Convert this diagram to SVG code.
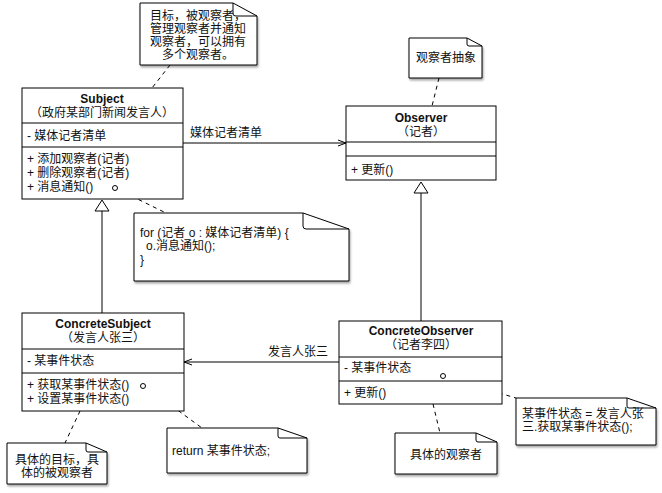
<svg xmlns="http://www.w3.org/2000/svg" width="662" height="493" viewBox="0 0 662 493">
<defs>
<style>
text{font-family:"Liberation Sans","Noto Sans CJK SC",sans-serif;font-size:12px;fill:#111}
.b{font-weight:bold}
.m{text-anchor:middle}
.box{fill:#fff;stroke:#000;stroke-width:1}
.note{fill:#fff;stroke:#000;stroke-width:1;filter:url(#sh)}
.fold{fill:none;stroke:#000;stroke-width:1}
.dash{fill:none;stroke:#000;stroke-width:1;stroke-dasharray:4,4}
.line{fill:none;stroke:#000;stroke-width:1}
.dot{fill:#fff;stroke:#000;stroke-width:1}
.tri{fill:#fff;stroke:#000;stroke-width:1}
</style>
<filter id="sh" x="-10%" y="-10%" width="130%" height="140%">
<feDropShadow dx="1" dy="2" stdDeviation="1" flood-color="#000" flood-opacity="0.35"/>
</filter>
<marker id="open" markerWidth="10" markerHeight="8" refX="9" refY="4" orient="auto" markerUnits="userSpaceOnUse">
<path d="M1,1 L9,4 L1,7" fill="none" stroke="#000" stroke-width="1"/>
</marker>
</defs>

<g id="connectors">
<line class="dash" x1="170" y1="65" x2="152" y2="88"/>
<line class="dash" x1="439" y1="78" x2="432" y2="106"/>
<line class="dash" x1="117" y1="189" x2="166" y2="213"/>
<line class="dash" x1="146" y1="387" x2="202" y2="428"/>
<line class="dash" x1="80" y1="411" x2="65" y2="443"/>
<line class="dash" x1="445" y1="377" x2="516" y2="398"/>
<line class="dash" x1="433" y1="404" x2="440" y2="433"/>
<line class="line" x1="183" y1="143" x2="346" y2="143" marker-end="url(#open)"/>
<line class="line" x1="340" y1="362" x2="184" y2="362" marker-end="url(#open)"/>
<line class="line" x1="102" y1="211" x2="102" y2="313"/>
<polygon class="tri" points="102,200 95,211 109,211"/>
<line class="line" x1="421" y1="193" x2="421" y2="321"/>
<polygon class="tri" points="421,182 414,193 428,193"/>
<text x="190" y="137">媒体记者清单</text>
<text x="268" y="356">发言人张三</text>
</g>

<g id="subject">
<rect class="box" x="22" y="88" width="161" height="111"/>
<line class="line" x1="22" y1="123" x2="183" y2="123"/>
<line class="line" x1="22" y1="147" x2="183" y2="147"/>
<text class="b m" x="102" y="103">Subject</text>
<text class="m" x="102" y="117">（政府某部门新闻发言人）</text>
<text x="27" y="140">- 媒体记者清单</text>
<text x="27" y="163">+ 添加观察者(记者)</text>
<text x="27" y="177">+ 删除观察者(记者)</text>
<text x="27" y="191">+ 消息通知()</text>
<circle class="dot" cx="115" cy="188" r="2.5"/>
</g>

<g id="observer">
<rect class="box" x="346" y="106" width="150" height="74"/>
<line class="line" x1="346" y1="142" x2="496" y2="142"/>
<line class="line" x1="346" y1="156" x2="496" y2="156"/>
<text class="b m" x="421" y="122">Observer</text>
<text class="m" x="421" y="136">（记者）</text>
<text x="351" y="174">+ 更新()</text>
</g>

<g id="concrete-subject">
<rect class="box" x="22" y="313" width="162" height="98"/>
<line class="line" x1="22" y1="349" x2="184" y2="349"/>
<line class="line" x1="22" y1="373" x2="184" y2="373"/>
<text class="b m" x="103" y="328">ConcreteSubject</text>
<text class="m" x="103" y="342">（发言人张三）</text>
<text x="27" y="365">- 某事件状态</text>
<text x="27" y="389">+ 获取某事件状态()</text>
<text x="27" y="403">+ 设置某事件状态()</text>
<circle class="dot" cx="143" cy="386" r="2.5"/>
</g>

<g id="concrete-observer">
<rect class="box" x="339" y="321" width="163" height="83"/>
<line class="line" x1="339" y1="357" x2="502" y2="357"/>
<line class="line" x1="339" y1="381" x2="502" y2="381"/>
<text class="b m" x="421" y="335">ConcreteObserver</text>
<text class="m" x="421" y="349">（记者李四）</text>
<text x="344" y="372">- 某事件状态</text>
<text x="344" y="397">+ 更新()</text>
<circle class="dot" cx="443" cy="376" r="2.5"/>
</g>

<g id="note-subject">
<path class="note" d="M140,3 H233 L257,16 V65 H140 Z"/>
<path class="fold" d="M233,3 V14 Q233,16 236,16 H257"/>
<text class="m" x="198" y="20">目标，被观察者，</text>
<text class="m" x="198" y="33">管理观察者并通知</text>
<text class="m" x="198" y="46">观察者，可以拥有</text>
<text class="m" x="198" y="59">多个观察者。</text>
</g>

<g id="note-observer">
<path class="note" d="M409,38 H467 L482,46 V78 H409 Z"/>
<path class="fold" d="M467,38 V44 Q467,46 469,46 H482"/>
<text class="m" x="446" y="62">观察者抽象</text>
</g>

<g id="note-for">
<path class="note" d="M134,213 H303 L349,229 V281 H134 Z"/>
<path class="fold" d="M303,213 V226 Q303,229 306,229 H349"/>
<text x="140" y="237">for (记者 o : 媒体记者清单) {</text>
<text x="146" y="250">o.消息通知();</text>
<text x="140" y="264">}</text>
</g>

<g id="note-return">
<path class="note" d="M167,428 H278 L307,438 V473 H167 Z"/>
<path class="fold" d="M278,428 V436 Q278,438 280,438 H307"/>
<text x="172" y="455">return 某事件状态;</text>
</g>

<g id="note-concrete-subject">
<path class="note" d="M7,443 H86 L107,452 V484 H7 Z"/>
<path class="fold" d="M86,443 V450 Q86,452 88,452 H107"/>
<text class="m" x="57" y="464">具体的目标，具</text>
<text class="m" x="57" y="477">体的被观察者</text>
</g>

<g id="note-concrete-observer">
<path class="note" d="M395,433 H476 L497,442 V474 H395 Z"/>
<path class="fold" d="M476,433 V440 Q476,442 478,442 H497"/>
<text class="m" x="446" y="459">具体的观察者</text>
</g>

<g id="note-update">
<path class="note" d="M516,398 H627 L656,408 V445 H516 Z"/>
<path class="fold" d="M627,398 V406 Q627,408 629,408 H656"/>
<text x="522" y="418">某事件状态 = 发言人张</text>
<text x="522" y="431">三.获取某事件状态();</text>
</g>
</svg>
